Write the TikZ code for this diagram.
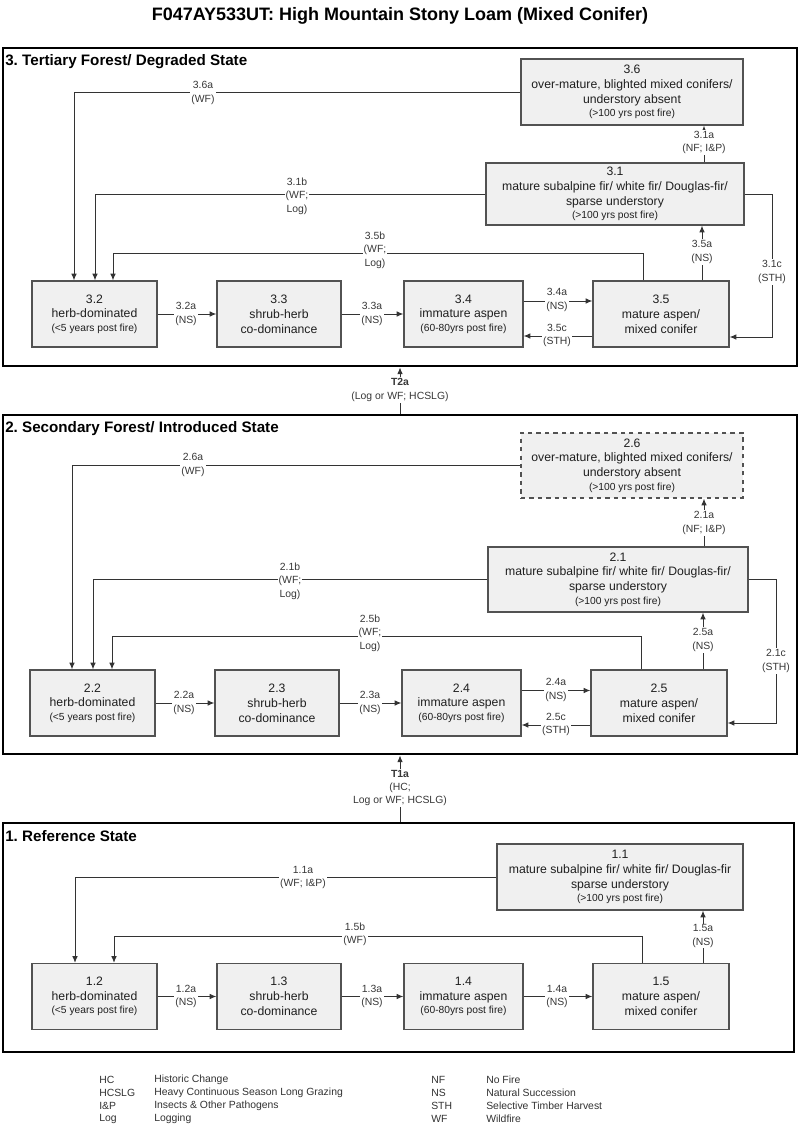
\documentclass[tikz,border=0pt]{standalone}
\usepackage{fontspec}
\setmainfont{Liberation Sans}
\usetikzlibrary{arrows.meta}
\frenchspacing
\definecolor{boxfill}{gray}{0.94}
\definecolor{boxline}{gray}{0.32}
\definecolor{wirecol}{gray}{0.2}
\definecolor{lbltext}{gray}{0.22}

\begin{document}
\begin{tikzpicture}[x=0.025cm, y=-0.025cm,
  panel/.style={draw=black, line width=2pt, inner sep=0pt},
  state/.style={draw=boxline, fill=boxfill, line width=0.9pt, inner sep=0pt, align=center, text=black!88, font=\fontsize{8.7}{10.6}\selectfont},
  trans/.style={fill=white, inner sep=0.8pt, align=center, text=lbltext, font=\fontsize{7.4}{9.5}\selectfont},
  wire/.style={draw=wirecol, line width=0.7pt},
  arr/.style={wire, ->, >={Latex[length=4.8pt,width=4pt]}},
  head/.style={anchor=base west, inner sep=0pt, font=\bfseries\fontsize{10.8}{13}\selectfont},
  legend/.style={anchor=west, inner sep=0pt, text=black!80, font=\fontsize{7.4}{9}\selectfont}]

\def \pxl {0.025cm}
\def \smtxt {\fontsize{7.3}{9}\selectfont}

\useasboundingbox (0,0) rectangle (800,1126);
\fill[white] (0,0) rectangle (800,1126);

\node (title) [anchor=base, inner sep=0pt, font=\bfseries\fontsize{12.8}{15}\selectfont] at (400,20) {F047AY533UT: High Mountain Stony Loam (Mixed Conifer)};

% state panels
\node (p3) [panel, minimum width=794*\pxl, minimum height=318*\pxl] at (400,207) {};
\node (p2) [panel, minimum width=794*\pxl, minimum height=339*\pxl] at (400,584.5) {};
\node (p1) [panel, minimum width=791*\pxl, minimum height=229*\pxl] at (398.5,937.5) {};

\node (h3) [head] at (5,65) {3. Tertiary Forest/ Degraded State};
\node (h2) [head] at (5,432) {2. Secondary Forest/ Introduced State};
\node (h1) [head] at (5,841) {1. Reference State};

% bottom row of every panel
\foreach \s/\y/\dx in {3/314/0, 2/703/-2, 1/996.5/0}
{
  \node (s\s2) [state, minimum width=125*\pxl, minimum height=66*\pxl] at (94.5+\dx,\y) {\s.2\\herb-dominated\\[-1pt]{\smtxt (<5 years post fire)}};
  \node (s\s3) [state, minimum width=124*\pxl, minimum height=66*\pxl] at (279+\dx,\y) {\s.3\\shrub-herb\\co-dominance};
  \node (s\s4) [state, minimum width=119*\pxl, minimum height=66*\pxl] at (463.5+\dx,\y) {\s.4\\immature aspen\\[-1pt]{\smtxt (60-80yrs post fire)}};
  \node (s\s5) [state, minimum width=136*\pxl, minimum height=66*\pxl] at (661+\dx,\y) {\s.5\\mature aspen/\\mixed conifer};
  \draw[arr] (s\s2) -- (s\s3);
  \draw[arr] (s\s3) -- (s\s4);
  \node (t\s2a) [trans] at (186+\dx,\y) {\s.2a\\(NS)};
  \node (t\s3a) [trans] at (372+\dx,\y) {\s.3a\\(NS)};
}

% panel 3
\node (s36) [state, minimum width=222*\pxl, minimum height=66*\pxl] at (632,92) {3.6\\over-mature, blighted mixed conifers/\\understory absent\\[-1pt]{\smtxt (>100 yrs post fire)}};
\node (s31) [state, minimum width=258*\pxl, minimum height=62*\pxl] at (615,194) {3.1\\mature subalpine fir/ white fir/ Douglas-fir/\\sparse understory\\[-1pt]{\smtxt (>100 yrs post fire)}};

\coordinate (c36a) at (74,92);
\coordinate (c31b) at (95,194);
\coordinate (c35b) at (113,253);
\coordinate (c31c) at (772,337);
\coordinate (k35a) at ([xshift=41*\pxl]s35.north);
\coordinate (k31a) at ([xshift=89*\pxl]s31.north);

\draw[arr] (s36.west) -| (c36a |- s32.north);
\draw[arr] (s31.west) -| (c31b |- s32.north);
\draw[arr] ([xshift=-18*\pxl]s35.north) |- (c35b) -- (c35b |- s32.north);
\draw[arr] (k35a) -- (k35a |- s31.south);
\draw[arr] (k31a) -- (k31a |- s36.south);
\draw[arr] (s31.east) -| (c31c) -- (c31c -| s35.east);
\draw[arr] ([yshift=13*\pxl]s34.east) -- ([yshift=13*\pxl]s35.west);
\draw[arr] ([yshift=-22*\pxl]s35.west) -- ([yshift=-22*\pxl]s34.east);

\node (t36a) [trans] at (203,93) {3.6a\\(WF)};
\node (t31b) [trans] at (297,196) {3.1b\\(WF;\\Log)};
\node (t35b) [trans] at (375,250) {3.5b\\(WF;\\Log)};
\node (t34a) [trans] at (557,300) {3.4a\\(NS)};
\node (t35c) [trans] at (557,335.5) {3.5c\\(STH)};
\node (t35a) [trans] at (702,252) {3.5a\\(NS)};
\node (t31a) [trans] at (704,142.5) {3.1a\\(NF; I\&P)};
\node (t31c) [trans] at (772,272) {3.1c\\(STH)};

% panel 2
\node (s26) [state, dashed, minimum width=222*\pxl, minimum height=65*\pxl] at (632,465.5) {2.6\\over-mature, blighted mixed conifers/\\understory absent\\[-1pt]{\smtxt (>100 yrs post fire)}};
\node (s21) [state, minimum width=260*\pxl, minimum height=65*\pxl] at (618,579.5) {2.1\\mature subalpine fir/ white fir/ Douglas-fir/\\sparse understory\\[-1pt]{\smtxt (>100 yrs post fire)}};

\coordinate (c26a) at (72,466);
\coordinate (c21b) at (93,579);
\coordinate (c25b) at (112,636);
\coordinate (c21c) at (776,723);
\coordinate (k25a) at ([xshift=44*\pxl]s25.north);
\coordinate (k21a) at ([xshift=86*\pxl]s21.north);

\draw[arr] (s26.west) -| (c26a |- s22.north);
\draw[arr] (s21.west) -| (c21b |- s22.north);
\draw[arr] ([xshift=-18*\pxl]s25.north) |- (c25b) -- (c25b |- s22.north);
\draw[arr] (k25a) -- (k25a |- s21.south);
\draw[arr] (k21a) -- (k21a |- s26.south);
\draw[arr] (s21.east) -| (c21c) -- (c21c -| s25.east);
\draw[arr] ([yshift=12.5*\pxl]s24.east) -- ([yshift=12.5*\pxl]s25.west);
\draw[arr] ([yshift=-22*\pxl]s25.west) -- ([yshift=-22*\pxl]s24.east);

\node (t26a) [trans] at (193,465) {2.6a\\(WF)};
\node (t21b) [trans] at (290,581) {2.1b\\(WF;\\Log)};
\node (t25b) [trans] at (370,633) {2.5b\\(WF;\\Log)};
\node (t24a) [trans] at (556,690) {2.4a\\(NS)};
\node (t25c) [trans] at (556,724.5) {2.5c\\(STH)};
\node (t25a) [trans] at (703,640) {2.5a\\(NS)};
\node (t21a) [trans] at (704,523) {2.1a\\(NF; I\&P)};
\node (t21c) [trans] at (776,661) {2.1c\\(STH)};

% panel 1
\node (s11) [state, minimum width=246*\pxl, minimum height=66*\pxl] at (620,877) {1.1\\mature subalpine fir/ white fir/ Douglas-fir\\sparse understory\\[-1pt]{\smtxt (>100 yrs post fire)}};

\coordinate (c11a) at (75,877);
\coordinate (c15b) at (114,936);
\coordinate (k15a) at ([xshift=42*\pxl]s15.north);

\draw[arr] (s11.west) -| (c11a |- s12.north);
\draw[arr] ([xshift=-19*\pxl]s15.north) |- (c15b) -- (c15b |- s12.north);
\draw[arr] (k15a) -- (k15a |- s11.south);
\draw[arr] (s14) -- (s15);

\node (t11a) [trans] at (303,877.5) {1.1a\\(WF; I\&P)};
\node (t15b) [trans] at (355,934) {1.5b\\(WF)};
\node (t14a) [trans] at (557,996.5) {1.4a\\(NS)};
\node (t15a) [trans] at (703,936) {1.5a\\(NS)};

% transitions between states
\draw[arr] (p2.north) -- (p3.south);
\draw[arr] (p1.north -| p2.south) -- (p2.south);
\node (t2a) [trans] at (400,390) {\textbf{T2a}\\(Log or WF; HCSLG)};
\node (t1a) [trans] at (400,788) {\textbf{T1a}\\(HC;\\Log or WF; HCSLG)};

% legend
\foreach \a/\b [count=\i] in {HC/Historic Change, HCSLG/Heavy Continuous Season Long Grazing, I\&P/Insects \& Other Pathogens, Log/Logging}
{
  \node (ka\i) [legend] at (99,{1080+13*(\i-1)}) {\a};
  \node (kb\i) [legend] at (154,{1080+13*(\i-1)}) {\b};
}
\foreach \a/\b [count=\i] in {NF/No Fire, NS/Natural Succession, STH/Selective Timber Harvest, WF/Wildfire}
{
  \node (kc\i) [legend] at (431,{1080+13*(\i-1)}) {\a};
  \node (kd\i) [legend] at (486,{1080+13*(\i-1)}) {\b};
}

\end{tikzpicture}
\end{document}
